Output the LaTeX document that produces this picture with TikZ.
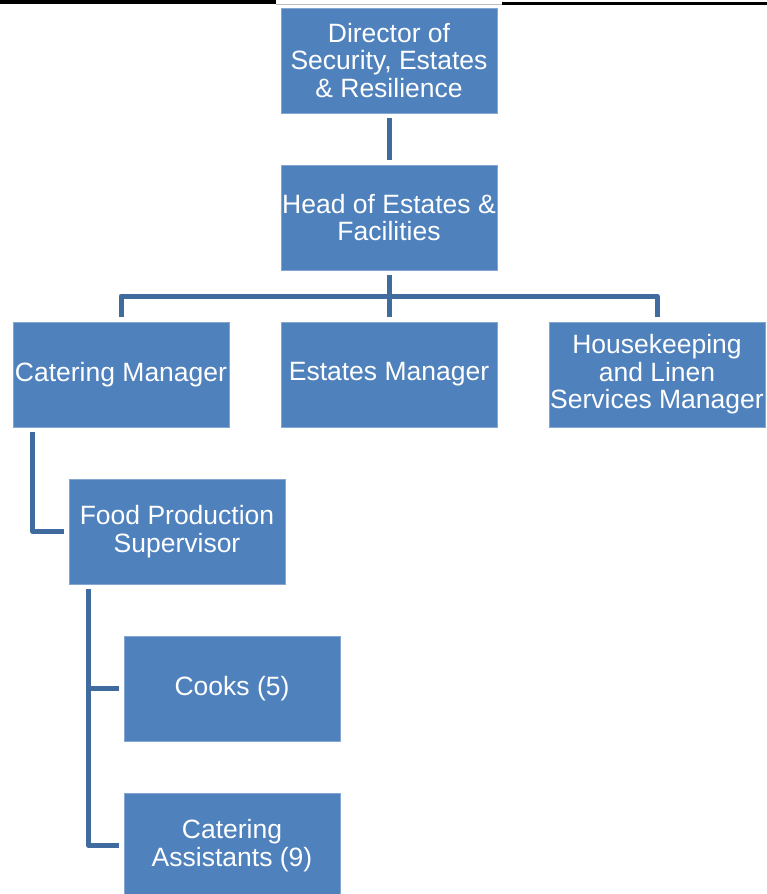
\documentclass[tikz,border=0pt]{standalone}
\usepackage{fontspec}
\setmainfont{Liberation Sans}
\usepackage{tikz}
\usetikzlibrary{positioning,calc}
\definecolor{boxblue}{HTML}{4F81BD}
\definecolor{linkblue}{HTML}{3F6B9F}

\begin{document}
\begin{tikzpicture}[x=1pt,y=-1pt,
  post/.style={fill=boxblue, draw=boxblue!70!white, line width=0.6pt, minimum width=216pt, minimum height=105pt, inner sep=0pt, align=center, text=white, font=\fontsize{26.5}{27.5}\selectfont},
  link/.style={draw=linkblue, line width=5pt, line join=round}]
  \useasboundingbox (0,0) rectangle (767,894);
  % rule across the top
  \draw[black, line width=4pt] (0,2.2) -- (276,2.2);
  \draw[black, line width=3pt] (502,3.6) -- (767,3.6);
  \draw[black!25, line width=0.8pt] (276,4.2) -- (502,4.2);
  \node[post] (dir) at (389,60.5) {Director of\\Security, Estates\\\& Resilience};
  \node[post] (head) at (389,217.5) {Head of Estates \&\\Facilities};
  \node[post] (cat) at (121,374.5) {Catering Manager};
  \node[post] (est) at (389,374.5) {Estates Manager};
  \node[post] (house) at (657,374.5) {Housekeeping\\and Linen\\Services Manager};
  \node[post] (fps) at (177,531.5) {Food Production\\Supervisor};
  \node[post] (cooks) at (232,688.5) {Cooks (5)};
  \node[post] (assist) at (232,845.5) {Catering\\Assistants (9)};
  \coordinate (bar) at (389,296);
  \draw[link, shorten <=5pt, shorten >=5pt] (dir.south) -- (head.north);
  \draw[link, shorten <=5pt] (head.south) -- (bar);
  \draw[link, shorten >=5pt] (bar) -- (est.north);
  \draw[link, shorten >=5pt] (bar) -| (cat.north);
  \draw[link, shorten >=5pt] (bar) -| (house.north);
  \draw[link, shorten <=5pt, shorten >=5pt] ([xshift=20pt]cat.south west) |- (fps.west);
  \draw[link, shorten <=5pt, shorten >=5pt] ([xshift=20pt]fps.south west) |- (cooks.west);
  \draw[link, shorten <=5pt, shorten >=5pt] ([xshift=20pt]fps.south west) |- (assist.west);
\end{tikzpicture}
\end{document}
